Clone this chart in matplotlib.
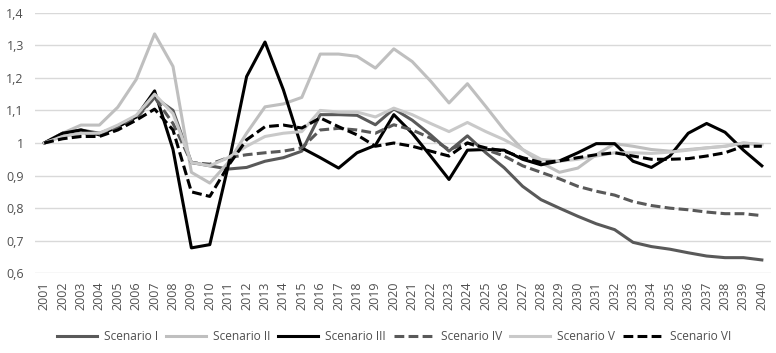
import numpy as np
import matplotlib.pyplot as plt

plt.rcParams['font.family'] = ['Open Sans', 'DejaVu Sans']

years = list(range(2001, 2041))

scen_1 = [1.0, 1.03, 1.04, 1.03, 1.05, 1.08, 1.14, 1.10, 0.94, 0.93,
          0.92, 0.925, 0.944, 0.955, 0.975, 1.087, 1.087, 1.085, 1.056, 1.105,
          1.07, 1.025, 0.975, 1.022, 0.97, 0.924, 0.867, 0.826, 0.80, 0.775,
          0.752, 0.734, 0.695, 0.682, 0.674, 0.663, 0.653, 0.648, 0.648, 0.641]
scen_2 = [1.0, 1.03, 1.055, 1.055, 1.11, 1.195, 1.335, 1.235, 0.91, 0.877,
          0.94, 1.03, 1.111, 1.12, 1.14, 1.273, 1.273, 1.266, 1.23, 1.289,
          1.25, 1.19, 1.123, 1.182, 1.112, 1.04, 0.98, 0.94, 0.91, 0.923,
          0.964, 0.998, 0.99, 0.98, 0.975, 0.98, 0.985, 0.99, 1.0, 0.995]
scen_3 = [1.0, 1.03, 1.04, 1.025, 1.05, 1.08, 1.16, 0.98, 0.678, 0.688,
          0.93, 1.204, 1.31, 1.163, 0.985, 0.955, 0.923, 0.97, 0.993, 1.087,
          1.03, 0.96, 0.888, 0.978, 0.98, 0.978, 0.95, 0.933, 0.945, 0.97,
          0.998, 0.998, 0.944, 0.925, 0.96, 1.03, 1.06, 1.033, 0.978, 0.93]
scen_4 = [1.0, 1.02, 1.03, 1.025, 1.045, 1.075, 1.14, 1.06, 0.94, 0.935,
          0.955, 0.964, 0.97, 0.975, 0.985, 1.04, 1.045, 1.04, 1.03, 1.056,
          1.04, 1.015, 0.98, 1.0, 0.98, 0.96, 0.93, 0.91, 0.89, 0.867,
          0.852, 0.84, 0.82, 0.808, 0.8, 0.795, 0.788, 0.783, 0.783, 0.777]
scen_5 = [1.0, 1.02, 1.03, 1.03, 1.055, 1.085, 1.15, 1.09, 0.94, 0.93,
          0.955, 0.99, 1.02, 1.03, 1.035, 1.10, 1.095, 1.095, 1.08, 1.107,
          1.087, 1.06, 1.035, 1.063, 1.035, 1.01, 0.98, 0.95, 0.944, 0.95,
          0.96, 0.97, 0.97, 0.968, 0.972, 0.978, 0.985, 0.99, 1.0, 0.995]
scen_6 = [1.0, 1.013, 1.02, 1.02, 1.04, 1.07, 1.104, 1.04, 0.85, 0.836,
          0.93, 1.01, 1.05, 1.055, 1.046, 1.077, 1.05, 1.025, 0.99, 1.0,
          0.99, 0.975, 0.96, 1.0, 0.985, 0.975, 0.955, 0.94, 0.945, 0.955,
          0.964, 0.97, 0.96, 0.95, 0.95, 0.952, 0.96, 0.97, 0.99, 0.99]

names = ["Scenario I", "Scenario II", "Scenario III", "Scenario IV", "Scenario V", "Scenario VI"]

fig = plt.figure(figsize=(7.76, 3.53), dpi=100)
ax = fig.add_axes([0.0451, 0.2258, 0.9485, 0.7382])

dash = (0, (3.2, 1.4))
ax.plot(years, scen_1, color="#595959", lw=2.2, label=names[0], solid_joinstyle='round')
ax.plot(years, scen_2, color="#BFBFBF", lw=2.2, label=names[1], solid_joinstyle='round')
ax.plot(years, scen_3, color="#000000", lw=2.2, label=names[2], solid_joinstyle='round')
ax.plot(years, scen_4, color="#595959", lw=2.2, ls=dash, label=names[3])
ax.plot(years, scen_5, color="#C9C9C9", lw=2.2, label=names[4], solid_joinstyle='round')
ax.plot(years, scen_6, color="#000000", lw=2.2, ls=dash, label=names[5])

### Layout:
ax.set_xlim(2000.5, 2040.5)
ax.set_ylim(0.6, 1.4)
yt = np.round(np.arange(0.6, 1.41, 0.1), 1)
ax.set_yticks(yt)
ax.set_yticklabels(["1" if v == 1.0 else str(v).replace(".", ",") for v in yt])
ax.set_xticks(years)
ax.set_xticklabels([str(y) for y in years], rotation=90)
ax.tick_params(axis='both', length=0, labelsize=9, labelcolor="#505050")
ax.tick_params(axis='y', pad=8)
ax.tick_params(axis='x', pad=6)
for s in ax.spines.values():
    s.set_visible(False)
ax.grid(True, axis='y', color="#D9D9D9", lw=1)
ax.set_axisbelow(True)

fig.legend(loc='center', bbox_to_anchor=(394 / 776, 1 - 337 / 353), ncol=6, frameon=False,
           fontsize=8.6, handlelength=3.35, handletextpad=0.58, columnspacing=0.67,
           labelcolor="#505050")

plt.savefig("out.png", dpi=100)
